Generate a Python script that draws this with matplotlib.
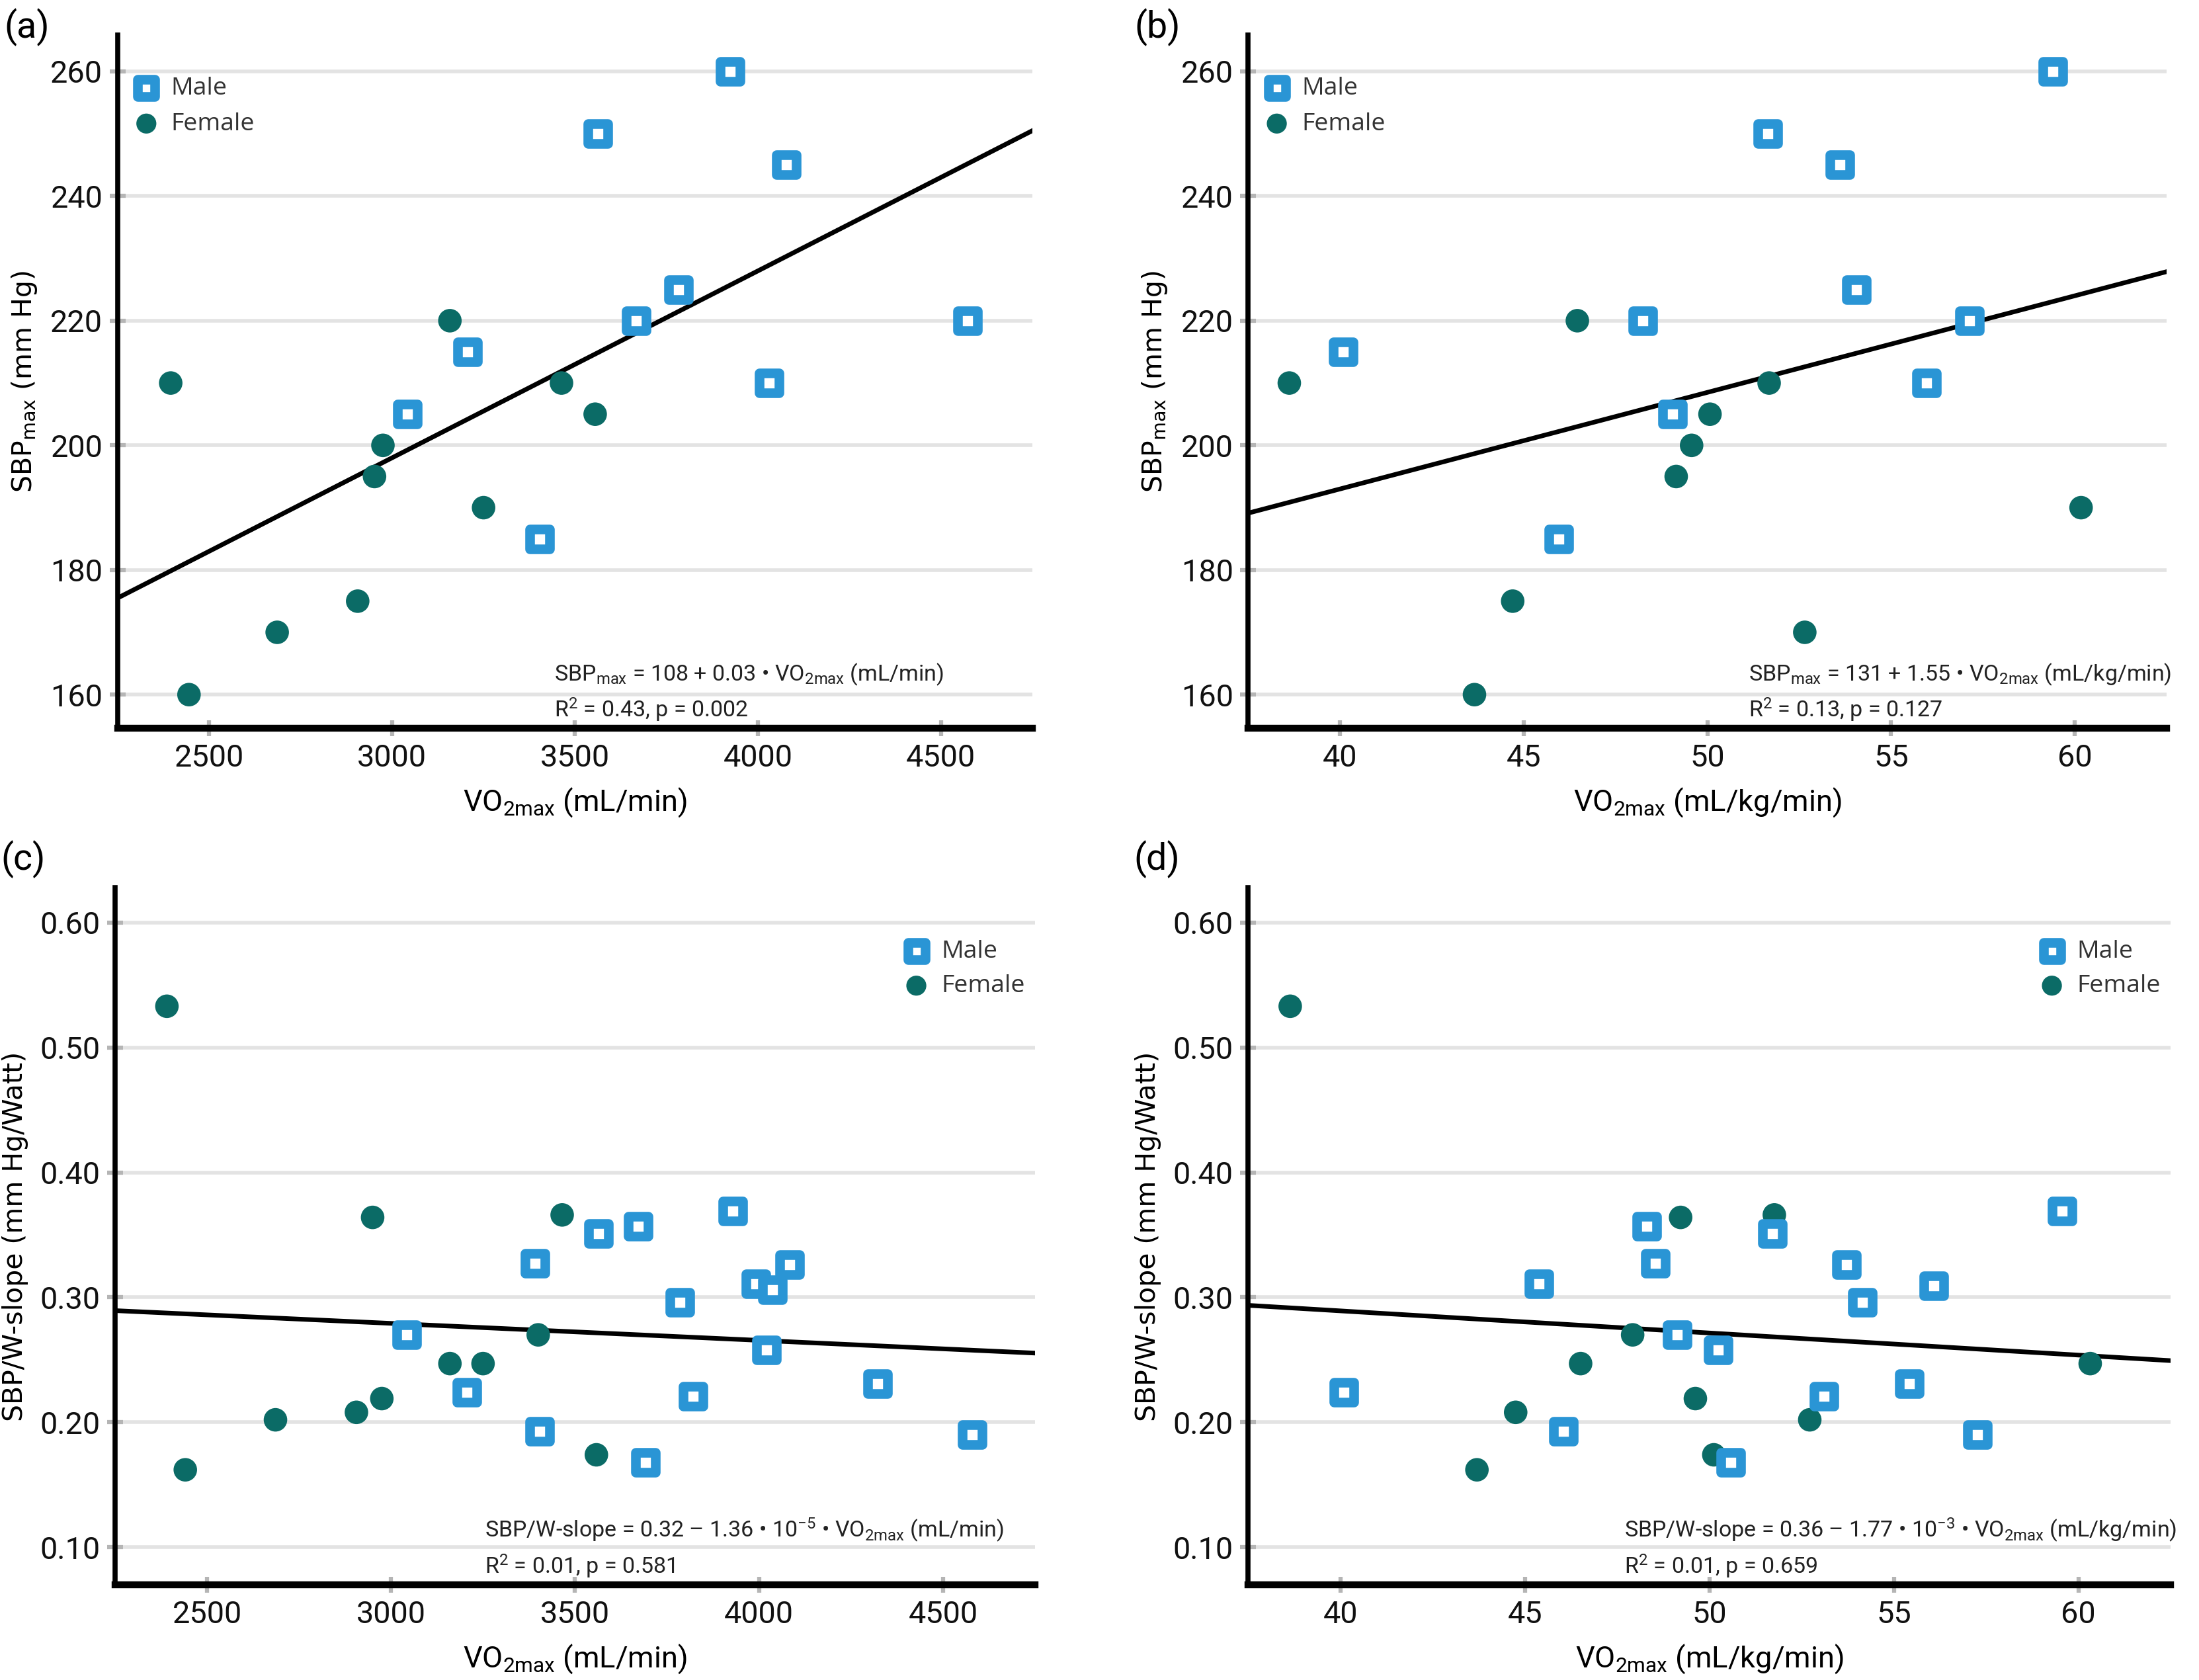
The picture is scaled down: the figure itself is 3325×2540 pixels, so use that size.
import matplotlib
matplotlib.use("Agg")
import matplotlib.pyplot as plt
import numpy as np

plt.rcParams['font.family'] = ['Roboto', 'DejaVu Sans']
plt.rcParams['mathtext.fontset'] = 'custom'
plt.rcParams['mathtext.rm'] = 'Roboto'
plt.rcParams['mathtext.it'] = 'Roboto:italic'
plt.rcParams['mathtext.bf'] = 'Roboto:bold'

# ---- data ----
# panels (a)/(b): SBPmax
male_vo2_abs_a = [3562, 3924, 4077, 3782, 3667, 4573, 3206, 4031, 3042, 3403]
male_vo2_rel_b = [51.64, 59.40, 53.61, 54.06, 48.25, 57.14, 40.08, 55.97, 49.05, 45.96]
male_sbp = [250, 260, 245, 225, 220, 220, 215, 210, 205, 185]

female_vo2_abs_a = [2395, 2445, 2686, 2906, 2952, 2975, 3158, 3250, 3463, 3555]
female_sbp_a = [210, 160, 170, 175, 195, 200, 220, 190, 210, 205]
female_vo2_rel_b = [38.62, 43.66, 44.70, 46.46, 49.15, 49.57, 50.07, 51.68, 52.65, 60.17]
female_sbp_b = [210, 160, 175, 220, 195, 200, 205, 210, 170, 190]

# panels (c)/(d): SBP/W-slope
male_vo2_abs_c = [3042, 3206, 3392, 3403, 3564, 3671, 3692, 3784, 3821, 3928,
                  3991, 4037, 4083, 4020, 4322, 4580]
male_slope_c = [0.270, 0.224, 0.327, 0.193, 0.351, 0.357, 0.168, 0.296, 0.221, 0.369,
                0.311, 0.306, 0.326, 0.258, 0.231, 0.190]
female_vo2_abs_c = [2391, 2441, 2686, 2906, 2975, 2950, 3160, 3250, 3400, 3465, 3558]
female_slope_c = [0.533, 0.162, 0.202, 0.208, 0.219, 0.364, 0.247, 0.247, 0.270, 0.366, 0.174]

male_vo2_rel_d = [40.10, 45.39, 46.04, 48.30, 48.53, 49.12, 50.24, 50.58, 51.70, 53.10,
                  53.71, 54.14, 55.42, 56.09, 57.26, 59.56]
male_slope_d = [0.224, 0.311, 0.193, 0.357, 0.327, 0.270, 0.258, 0.168, 0.351, 0.221,
                0.326, 0.296, 0.231, 0.309, 0.190, 0.369]
female_vo2_rel_d = [38.64, 43.70, 44.75, 46.51, 47.92, 49.22, 49.62, 50.12, 51.76, 52.72, 60.32]
female_slope_d = [0.533, 0.162, 0.208, 0.247, 0.270, 0.364, 0.219, 0.174, 0.366, 0.202, 0.247]

# regression lines (intercept, slope) as printed in the panels
fit_a = (108, 0.03)
fit_b = (131, 1.55)
fit_c = (0.32, -1.36e-5)
fit_d = (0.36, -1.77e-3)

BLUE = '#2A95D5'
TEAL = '#0B6B66'
GRID = '#e3e3e3'
TICK = '#b5b5b5'

fig = plt.figure(figsize=(13.3, 10.16), dpi=250)

positions = {
    'a': [0.0535, 0.5665, 0.4160, 0.4125],
    'b': [0.5676, 0.5665, 0.4177, 0.4125],
    'c': [0.0523, 0.0567, 0.4184, 0.4150],
    'd': [0.5676, 0.0567, 0.4195, 0.4150],
}

xlab_abs = r'VO$_{\mathregular{2max}}$ (mL/min)'
xlab_rel = r'VO$_{\mathregular{2max}}$ (mL/kg/min)'
ylab_sbp = r'SBP$_{\mathregular{max}}$ (mm Hg)'
ylab_slope = 'SBP/W-slope (mm Hg/Watt)'

panels = [
    ('a', male_vo2_abs_a, male_sbp, female_vo2_abs_a, female_sbp_a, fit_a,
     (2250, 4750), (154.6, 265.8), [2500, 3000, 3500, 4000, 4500], [160, 180, 200, 220, 240, 260],
     xlab_abs, ylab_sbp,
     [r'SBP$_{\mathregular{max}}$ = 108 + 0.03 • VO$_{\mathregular{2max}}$ (mL/min)',
      r'R$^{\mathregular{2}}$ = 0.43, p = 0.002'], 0.477, 'left', 1.012),
    ('b', male_vo2_rel_b, male_sbp, female_vo2_rel_b, female_sbp_b, fit_b,
     (37.5, 62.5), (154.6, 265.8), [40, 45, 50, 55, 60], [160, 180, 200, 220, 240, 260],
     xlab_rel, ylab_sbp,
     [r'SBP$_{\mathregular{max}}$ = 131 + 1.55 • VO$_{\mathregular{2max}}$ (mL/kg/min)',
      r'R$^{\mathregular{2}}$ = 0.13, p = 0.127'], 0.545, 'left', 1.012),
    ('c', male_vo2_abs_c, male_slope_c, female_vo2_abs_c, female_slope_c, fit_c,
     (2250, 4750), (0.070, 0.628), [2500, 3000, 3500, 4000, 4500], [0.1, 0.2, 0.3, 0.4, 0.5, 0.6],
     xlab_abs, ylab_slope,
     [r'SBP/W-slope = 0.32 – 1.36 • 10$^{\mathregular{-5}}$ • VO$_{\mathregular{2max}}$ (mL/min)',
      r'R$^{\mathregular{2}}$ = 0.01, p = 0.581'], 0.402, 'right', 1.040),
    ('d', male_vo2_rel_d, male_slope_d, female_vo2_rel_d, female_slope_d, fit_d,
     (37.5, 62.5), (0.070, 0.628), [40, 45, 50, 55, 60], [0.1, 0.2, 0.3, 0.4, 0.5, 0.6],
     xlab_rel, ylab_slope,
     [r'SBP/W-slope = 0.36 – 1.77 • 10$^{\mathregular{-3}}$ • VO$_{\mathregular{2max}}$ (mL/kg/min)',
      r'R$^{\mathregular{2}}$ = 0.01, p = 0.659'], 0.408, 'right', 1.040),
]

for (tag, mx, my, fx, fy, fit, xlim, ylim, xticks, yticks,
     xlabel, ylabel, eq_lines, eq_x, leg_side, tag_y) in panels:
    ax = fig.add_axes(positions[tag])
    ax.set_xlim(*xlim)
    ax.set_ylim(*ylim)
    ax.set_xticks(xticks)
    ax.set_yticks(yticks)
    if tag in ('c', 'd'):
        ax.set_yticklabels([f'{v:.2f}' for v in yticks])
    ax.tick_params(axis='both', direction='inout', length=7, width=1.8, color=TICK,
                   labelsize=13.5, pad=3, labelcolor='#111111')
    ax.yaxis.grid(True, color=GRID, linewidth=1.6)
    ax.set_axisbelow(True)
    for s in ('top', 'right'):
        ax.spines[s].set_visible(False)
    ax.spines['left'].set_linewidth(2.2)
    ax.spines['bottom'].set_linewidth(3.0)

    # regression line
    xs = np.array(xlim)
    ax.plot(xs, fit[0] + fit[1] * xs, color='black', linewidth=2.0, zorder=2)

    ax.scatter(mx, my, marker='s', s=72, facecolor='white', edgecolor=BLUE,
               linewidths=4.2, zorder=4, label='Male')
    ax.scatter(fx, fy, marker='o', s=105, color=TEAL, edgecolor='none', zorder=3,
               label='Female')

    ax.set_xlabel(xlabel, fontsize=13, labelpad=6)
    ax.set_ylabel(ylabel, fontsize=11.8, family=['DejaVu Sans'], labelpad=5)

    ax.text(eq_x, 0.078, eq_lines[0], transform=ax.transAxes, fontsize=9.8,
            va='center', ha='left', color='#222222')
    ax.text(eq_x, 0.027, eq_lines[1], transform=ax.transAxes, fontsize=9.8,
            va='center', ha='left', color='#222222')

    if leg_side == 'left':
        leg = ax.legend(loc='upper left', bbox_to_anchor=(-0.012, 0.962), frameon=False,
                        prop={'family': ['Open Sans'], 'size': 10.8},
                        handletextpad=0.0, labelspacing=0.48,
                        borderaxespad=0.2, markerscale=0.85)
    else:
        leg = ax.legend(loc='upper right', bbox_to_anchor=(1.005, 0.946), frameon=False,
                        prop={'family': ['Open Sans'], 'size': 10.8},
                        handletextpad=0.0, labelspacing=0.42,
                        borderaxespad=0.2, markerscale=0.85)
    for t in leg.get_texts():
        t.set_color('#333333')

    ax.text(-0.124, tag_y, f'({tag})', transform=ax.transAxes, fontsize=16,
            va='center', ha='left')

fig.savefig('out.png', dpi=250)
